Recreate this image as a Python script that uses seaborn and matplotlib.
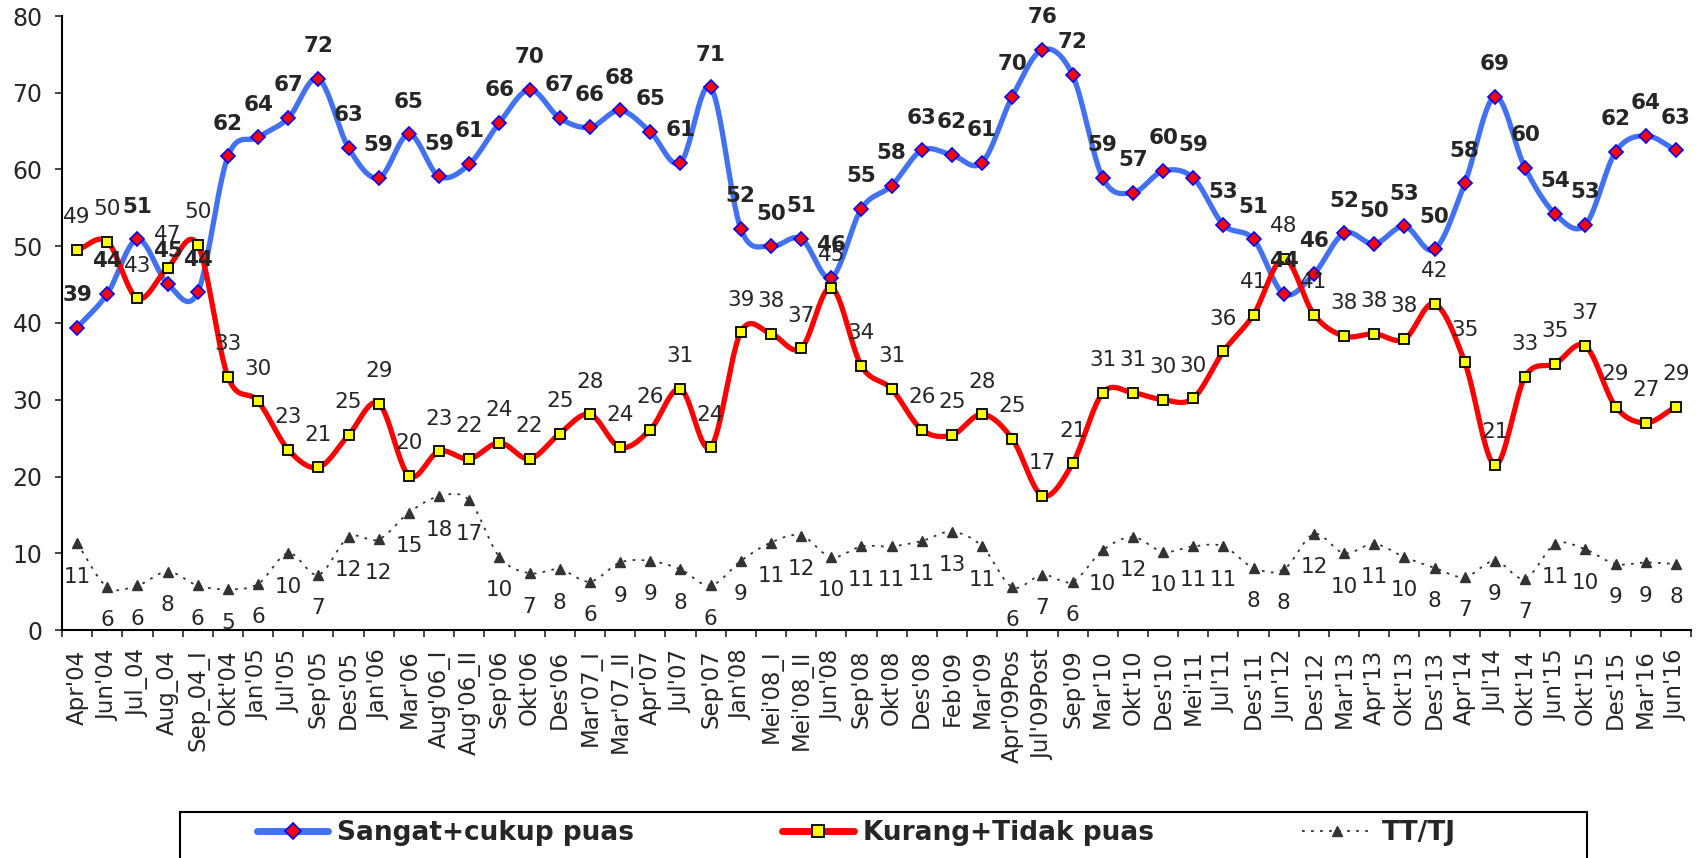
import numpy as np
import pandas as pd
import matplotlib
matplotlib.use("Agg")
import matplotlib.pyplot as plt
from matplotlib.lines import Line2D
from matplotlib.patches import Rectangle
import seaborn as sns

# === data ===
categories = ["Apr'04", "Jun'04", "Jul_04", "Aug_04", "Sep_04_I", "Okt'04", "Jan'05", "Jul'05",
              "Sep'05", "Des'05", "Jan'06", "Mar'06", "Aug'06_I", "Aug'06_II", "Sep'06", "Okt'06",
              "Des'06", "Mar'07_I", "Mar'07_II", "Apr'07", "Jul'07", "Sep'07", "Jan'08", "Mei'08_I",
              "Mei'08_II", "Jun'08", "Sep'08", "Okt'08", "Des'08", "Feb'09", "Mar'09", "Apr'09Pos",
              "Jul'09Post", "Sep'09", "Mar'10", "Okt'10", "Des'10", "Mei'11", "Jul'11", "Des'11",
              "Jun'12", "Des'12", "Mar'13", "Apr'13", "Okt'13", "Des'13", "Apr'14", "Jul'14",
              "Okt'14", "Jun'15", "Okt'15", "Des'15", "Mar'16", "Jun'16"]

sangat = [39.4, 43.8, 50.9, 45.1, 44.0, 61.7, 64.2, 66.7, 71.8, 62.8, 58.9, 64.6, 59.1, 60.7,
          66.1, 70.4, 66.7, 65.5, 67.7, 64.9, 60.9, 70.7, 52.3, 50.0, 51.0, 45.9, 54.9, 57.9,
          62.5, 61.9, 60.9, 69.5, 75.6, 72.3, 58.9, 57.0, 59.8, 58.9, 52.8, 50.9, 43.8, 46.4,
          51.7, 50.3, 52.6, 49.6, 58.2, 69.5, 60.2, 54.2, 52.8, 62.3, 64.4, 62.5]
sangat_lbl = [39, 44, 51, 45, 44, 62, 64, 67, 72, 63, 59, 65, 59, 61, 66, 70, 67, 66, 68, 65, 61,
              71, 52, 50, 51, 46, 55, 58, 63, 62, 61, 70, 76, 72, 59, 57, 60, 59, 53, 51, 44, 46,
              52, 50, 53, 50, 58, 69, 60, 54, 53, 62, 64, 63]

kurang = [49.5, 50.6, 43.2, 47.2, 50.2, 33.0, 29.8, 23.5, 21.2, 25.4, 29.5, 20.1, 23.3, 22.3,
          24.4, 22.3, 25.6, 28.1, 23.8, 26.1, 31.4, 23.8, 38.8, 38.6, 36.7, 44.6, 34.4, 31.4,
          26.1, 25.4, 28.1, 24.9, 17.5, 21.7, 30.9, 30.9, 30.0, 30.2, 36.3, 41.1, 48.4, 41.1,
          38.3, 38.6, 37.9, 42.5, 34.9, 21.5, 33.0, 34.7, 37.0, 29.1, 27.0, 29.1]
kurang_lbl = [49, 50, 43, 47, 50, 33, 30, 23, 21, 25, 29, 20, 23, 22, 24, 22, 25, 28, 24, 26, 31,
              24, 39, 38, 37, 45, 34, 31, 26, 25, 28, 25, 17, 21, 31, 31, 30, 30, 36, 41, 48, 41,
              38, 38, 38, 42, 35, 21, 33, 35, 37, 29, 27, 29]

tttj = [11.3, 5.6, 5.8, 7.6, 5.8, 5.3, 6.0, 10.0, 7.2, 12.1, 11.8, 15.3, 17.4, 16.9, 9.5, 7.4,
        7.9, 6.3, 8.8, 9.0, 7.9, 5.8, 9.0, 11.4, 12.3, 9.5, 10.9, 10.9, 11.6, 12.8, 10.9, 5.6,
        7.2, 6.3, 10.4, 12.1, 10.2, 10.9, 10.9, 8.1, 7.9, 12.5, 10.0, 11.2, 9.5, 8.1, 6.9, 9.0,
        6.7, 11.2, 10.5, 8.6, 8.8, 8.6]
tttj_lbl = [11, 6, 6, 8, 6, 5, 6, 10, 7, 12, 12, 15, 18, 17, 10, 7, 8, 6, 9, 9, 8, 6, 9, 11, 12,
            10, 11, 11, 11, 13, 11, 6, 7, 6, 10, 12, 10, 11, 11, 8, 8, 12, 10, 11, 10, 8, 7, 9, 7,
            11, 10, 9, 9, 8]

series_names = ["Sangat+cukup puas", "Kurang+Tidak puas", "TT/TJ"]


def smooth_curve(values, n=24):
    """Cubic Hermite (Catmull-Rom) path through the points, like Excel's smoothed line."""
    y = np.asarray(values, float)
    tang = np.gradient(y)
    s = np.linspace(0, 1, n, endpoint=False)
    h00 = 2 * s**3 - 3 * s**2 + 1
    h10 = s**3 - 2 * s**2 + s
    h01 = -2 * s**3 + 3 * s**2
    h11 = s**3 - s**2
    xs, ys = [], []
    for i in range(len(y) - 1):
        xs.append(i + s)
        ys.append(h00 * y[i] + h10 * tang[i] + h01 * y[i + 1] + h11 * tang[i + 1])
    xs.append([len(y) - 1])
    ys.append([y[-1]])
    return np.concatenate(xs), np.concatenate(ys)


sns.set_style("white")
plt.rcParams["font.family"] = ["DejaVu Sans"]

fig = plt.figure(figsize=(17.04, 8.58), dpi=100)
ax = fig.add_axes([62 / 1704, 1 - 630 / 858, (1691 - 62) / 1704, (630 - 16) / 858])

x = np.arange(len(categories))
BLUE = "#4272f2"
GRAY = "#333333"

# blue series
sx, sy = smooth_curve(sangat)
sns.lineplot(x=sx, y=sy, ax=ax, color=BLUE, lw=3.8, estimator=None, sort=False, zorder=2)
ax.plot(x, sangat, ls="none", marker="D", ms=7, mfc="#ff0000", mec="#0000ff", mew=1.2, zorder=3)

# red series
sx, sy = smooth_curve(kurang)
sns.lineplot(x=sx, y=sy, ax=ax, color="#ff0000", lw=3.8, estimator=None, sort=False, zorder=4)
ax.plot(x, kurang, ls="none", marker="s", ms=7, mfc="#ffff00", mec="black", mew=1.3, zorder=5)

# TT/TJ series
sx, sy = smooth_curve(tttj)
sns.lineplot(x=sx, y=sy, ax=ax, color=GRAY, lw=1.3, estimator=None, sort=False, zorder=2)
ax.lines[-1].set_linestyle((0, (1.5, 3.5)))
ax.plot(x, tttj, ls="none", marker="^", ms=6.5, mfc=GRAY, mec=GRAY, zorder=3)

# data labels
for i in x:
    ax.annotate(str(sangat_lbl[i]), (i, sangat[i]), xytext=(0, 23.5), textcoords="offset points",
                ha="center", va="center", fontsize=15.5, fontweight="bold", zorder=6)
    ax.annotate(str(kurang_lbl[i]), (i, kurang[i]), xytext=(0, 23.5), textcoords="offset points",
                ha="center", va="center", fontsize=15.5, zorder=6)
    ax.annotate(str(tttj_lbl[i]), (i, tttj[i]), xytext=(0, -24), textcoords="offset points",
                ha="center", va="center", fontsize=15.5, zorder=6)

# axes styling
ax.set_xlim(-0.5, len(categories) - 0.5)
ax.set_ylim(0, 80)
ax.set_yticks(range(0, 81, 10))
ax.set_xticks(x)
ax.set_xticklabels(categories, rotation=90, fontsize=16.5)
ax.set_xticks(np.arange(-0.5, len(categories)), minor=True)
ax.tick_params(axis="x", which="major", length=0, pad=14)
ax.tick_params(axis="x", which="minor", length=5, width=1.2, direction="out", bottom=True)
ax.tick_params(axis="y", labelsize=17, length=5, width=1.2, direction="out", left=True, pad=9)
for side in ["top", "right"]:
    ax.spines[side].set_visible(False)
for side in ["left", "bottom"]:
    ax.spines[side].set_color("black")
    ax.spines[side].set_linewidth(1.5)
ax.set_xlabel("")
ax.set_ylabel("")
ax.grid(False)

# legend in a box at the bottom
handles = [
    Line2D([], [], color=BLUE, lw=5, marker="D", ms=8, mfc="#ff0000", mec="#0000ff", mew=1.2),
    Line2D([], [], color="#ff0000", lw=5, marker="s", ms=8, mfc="#ffff00", mec="black", mew=1.3),
    Line2D([], [], color=GRAY, lw=1.3, ls=(0, (1.5, 3.5)), marker="^", ms=7, mfc=GRAY, mec=GRAY),
]
fig.legend(handles, series_names, loc="center left", ncol=3, frameon=False,
           bbox_to_anchor=(257 / 1704, (858 - 833) / 858), borderpad=0, borderaxespad=0,
           prop={"size": 19, "weight": "bold"}, handlelength=2.7, handletextpad=0.35,
           columnspacing=5.6, numpoints=1)
fig.patches.append(Rectangle((180 / 1704, -0.05), (1587 - 180) / 1704, (858 - 812) / 858 + 0.05,
                             transform=fig.transFigure, fill=False, edgecolor="black", lw=1.5))

fig.savefig("out.png", dpi=100)
